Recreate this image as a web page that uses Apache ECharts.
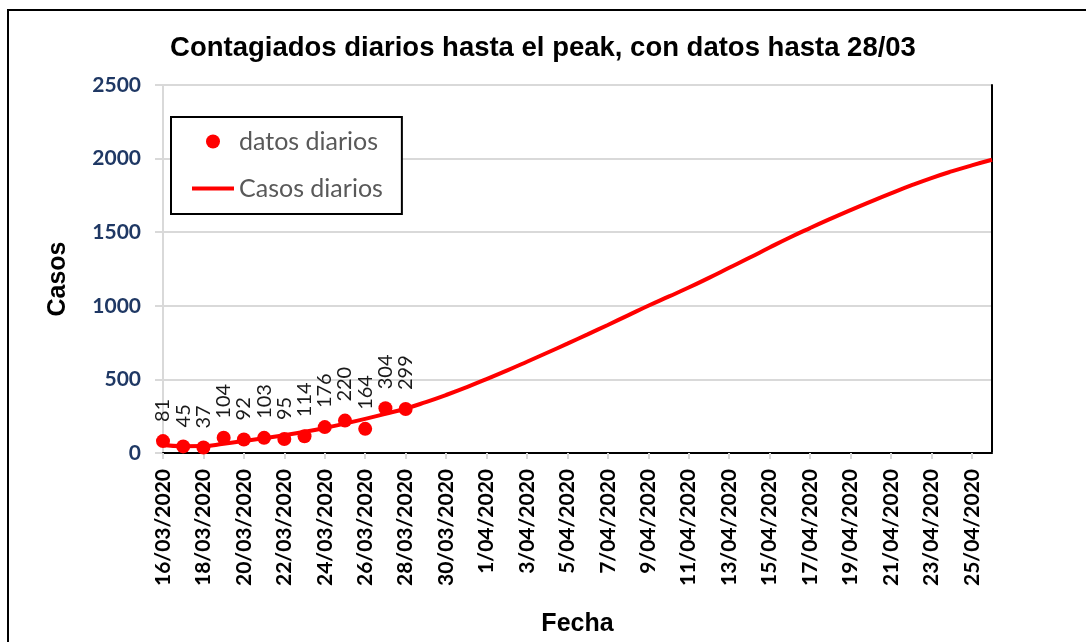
<!DOCTYPE html>
<html>
<head>
<meta charset="utf-8">
<script src="https://cdn.jsdelivr.net/npm/echarts@6/dist/echarts.min.js"></script>
<style>
  html, body { margin: 0; padding: 0; background: #fff; }
  #chart { width: 1086px; height: 642px; }
</style>
</head>
<body>
<div id="chart"></div>
<script>
  // fechas (un dia por categoria)
  const fechas = [
    '16/03/2020', '17/03/2020', '18/03/2020', '19/03/2020', '20/03/2020', '21/03/2020',
    '22/03/2020', '23/03/2020', '24/03/2020', '25/03/2020', '26/03/2020', '27/03/2020',
    '28/03/2020', '29/03/2020', '30/03/2020', '31/03/2020', '1/04/2020', '2/04/2020',
    '3/04/2020', '4/04/2020', '5/04/2020', '6/04/2020', '7/04/2020', '8/04/2020',
    '9/04/2020', '10/04/2020', '11/04/2020', '12/04/2020', '13/04/2020', '14/04/2020',
    '15/04/2020', '16/04/2020', '17/04/2020', '18/04/2020', '19/04/2020', '20/04/2020',
    '21/04/2020', '22/04/2020', '23/04/2020', '24/04/2020', '25/04/2020', '26/04/2020'
  ];
  // datos diarios observados
  const datosDiarios = [81, 45, 37, 104, 92, 103, 95, 114, 176, 220, 164, 304, 299];
  // curva ajustada
  const casosDiarios = [
    54, 46, 47, 63, 81, 100, 121, 144, 170, 200, 232, 266,
    302, 346, 394, 446, 502, 560, 620, 681, 743, 806, 870, 935,
    1000, 1062, 1124, 1190, 1258, 1326, 1396, 1464, 1528, 1590, 1650, 1708,
    1764, 1818, 1868, 1913, 1954, 1992
  ];
  const ticksY = [0, 500, 1000, 1500, 2000, 2500];

  const chart = echarts.init(document.getElementById('chart'));
  const gris = '#d9d9d9';
  const rojo = '#ff0000';

  chart.setOption({
    backgroundColor: '#fff',
    animation: false,
    title: {
      text: 'Contagiados diarios hasta el peak, con datos hasta 28/03',
      left: 538,
      textAlign: 'center',
      top: 29,
      textStyle: { fontFamily: 'Liberation Sans', fontWeight: 'bold', fontSize: 27.5, color: '#000' }
    },
    graphic: [{
      type: 'rect',
      shape: { x: 8, y: 10, width: 1200, height: 800 },
      style: { fill: 'none', stroke: '#000', lineWidth: 2 },
      silent: true
    }],
    legend: {
      orient: 'vertical',
      left: 171,
      top: 117,
      padding: [12, 19, 13, 21],
      borderColor: '#000',
      borderWidth: 2,
      backgroundColor: '#fff',
      itemWidth: 42,
      itemHeight: 14,
      itemGap: 22,
      textStyle: { fontFamily: 'Lato', fontSize: 25, color: '#595959', lineHeight: 24 },
      data: [
        { name: 'datos diarios', icon: 'circle' },
        { name: 'Casos diarios', icon: 'path://M0 0H42V4H0Z' }
      ]
    },
    grid: { left: 163, right: 94, top: 85, bottom: 187 },
    xAxis: [{
      type: 'category',
      data: fechas,
      boundaryGap: false,
      name: 'Fecha',
      nameLocation: 'middle',
      nameGap: 159,
      nameTextStyle: { fontFamily: 'Liberation Sans', fontWeight: 'bold', fontSize: 25, color: '#000' },
      axisLine: { lineStyle: { color: gris, width: 2 } },
      axisTick: { interval: 1, length: 6, lineStyle: { color: gris, width: 2 } },
      axisLabel: {
        interval: 1, rotate: 90, margin: 16,
        fontFamily: 'Lato', fontWeight: 'bold', fontSize: 21, color: '#000'
      },
      splitLine: { show: false },
      z: 3
    }, {
      // borde superior del area de trazado
      type: 'category',
      data: fechas,
      boundaryGap: false,
      position: 'top',
      axisLine: { lineStyle: { color: '#000', width: 2 } },
      axisTick: { show: false },
      axisLabel: { show: false },
      z: 3
    }],
    yAxis: [{
      type: 'value',
      min: ticksY[0], max: ticksY[ticksY.length - 1], interval: 500,
      name: 'Casos',
      nameLocation: 'middle',
      nameGap: 92,
      nameTextStyle: { fontFamily: 'Liberation Sans', fontWeight: 'bold', fontSize: 25, color: '#000', padding: [0, 0, 0, -20] },
      axisLine: { show: true, lineStyle: { color: gris, width: 2 } },
      axisTick: { show: true, length: 8, lineStyle: { color: gris, width: 2 } },
      axisLabel: {
        margin: 22, fontFamily: 'Lato', fontWeight: 'bold', fontSize: 21, color: '#1f3864',
        formatter: v => String(v)
      },
      splitLine: { lineStyle: { color: gris, width: 2 } }
    }, {
      // borde derecho del area de trazado
      type: 'value',
      min: ticksY[0], max: ticksY[ticksY.length - 1], interval: 500,
      position: 'right',
      axisLine: { show: true, lineStyle: { color: '#000', width: 2 } },
      axisTick: { show: false },
      axisLabel: { show: false },
      splitLine: { show: false }
    }],
    series: [{
      name: 'Casos diarios',
      type: 'line',
      data: casosDiarios,
      smooth: true,
      symbol: 'none',
      lineStyle: { color: rojo, width: 4 },
      itemStyle: { color: rojo },
      z: 2
    }, {
      name: 'datos diarios',
      type: 'scatter',
      data: datosDiarios,
      symbolSize: 14,
      itemStyle: { color: rojo, opacity: 1 },
      label: {
        show: true, position: 'top', rotate: 90, align: 'left', verticalAlign: 'middle',
        distance: 12, fontFamily: 'Lato', fontSize: 20, color: '#1a1a1a'
      },
      z: 4
    }]
  });
</script>
</body>
</html>
